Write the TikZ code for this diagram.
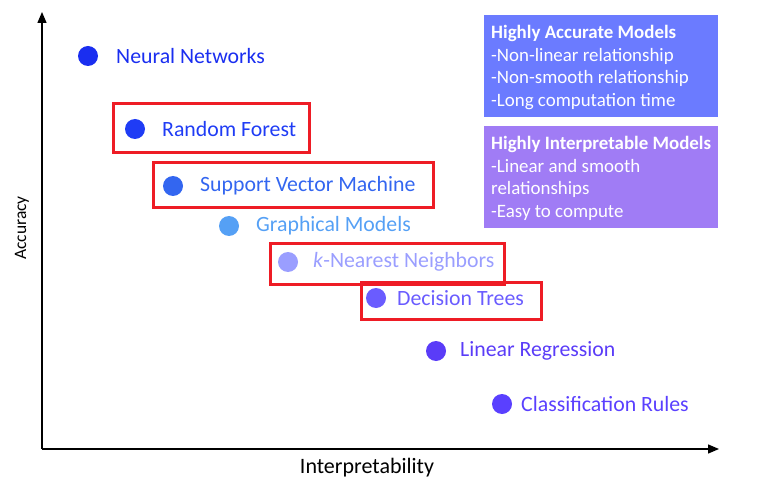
\documentclass[tikz,border=0pt]{standalone}
\usepackage{fontspec}
\setmainfont{Carlito}
\usetikzlibrary{arrows.meta}
\definecolor{cNN}{HTML}{1A2EF0}
\definecolor{cRF}{HTML}{1F3CF5}
\definecolor{cSVM}{HTML}{3366F0}
\definecolor{cGM}{HTML}{55A0F5}
\definecolor{cKNN}{HTML}{9A9EFF}
\definecolor{cDT}{HTML}{6A5CFF}
\definecolor{cLR}{HTML}{5A3CF8}
\definecolor{cCR}{HTML}{5A40FF}
\definecolor{boxA}{HTML}{6B7BFF}
\definecolor{boxB}{HTML}{A07CF5}
\definecolor{hl}{HTML}{EE1C25}
\begin{document}
\begin{tikzpicture}[x=1pt,y=-1pt,
  dot/.style={circle,inner sep=0pt,minimum size=20pt},
  lbl/.style={anchor=west,inner sep=0pt,font=\fontsize{21.8}{24}\selectfont},
  hlbox/.style={draw=hl,line width=3pt},
  infobox/.style={anchor=north west,inner sep=0pt,minimum width=234pt,minimum height=102pt},
  infotext/.style={anchor=base west,text=white,inner sep=0pt,font=\fontsize{18.9}{22}\selectfont},
  axis/.style={line width=1.4pt,-{Triangle[length=11pt,width=9pt]}},
  axlbl/.style={inner sep=0pt}]
\useasboundingbox (0,0) rectangle (770,494);
% axes
\coordinate (O) at (42,449);
\coordinate (Ytop) at (42,12);
\coordinate (Xend) at (719,449);
\draw[axis] (O) -- (Ytop);
\draw[axis] (O) -- (Xend);
\node[axlbl,rotate=90,font=\fontsize{17.5}{20}\selectfont] (ylab) at (22,228) {Accuracy};
\node[axlbl,font=\fontsize{22}{24}\selectfont] (xlab) at (367,468) {Interpretability};
% info boxes
\node[infobox,fill=boxA] (bA) at (484,15) {};
\node[infobox,fill=boxB] (bB) at (484,126) {};
\node[infotext] (tA1) at (491,39) {\textbf{Highly Accurate Models}};
\node[infotext] (tA2) at (491,61.5) {-Non-linear relationship};
\node[infotext] (tA3) at (491,84) {-Non-smooth relationship};
\node[infotext] (tA4) at (491,106.5) {-Long computation time};
\node[infotext] (tB1) at (491,150) {\textbf{Highly Interpretable Models}};
\node[infotext] (tB2) at (491,172.5) {-Linear and smooth};
\node[infotext] (tB3) at (491,195) {relationships};
\node[infotext] (tB4) at (491,217.5) {-Easy to compute};
% highlight boxes
\draw[hlbox] (113,104) rectangle (309,153);
\draw[hlbox] (153,163) rectangle (433,208);
\draw[hlbox] (270,243) rectangle (504,284);
\draw[hlbox] (361,282) rectangle (541,319);
% points
\node[dot,fill=cNN] (dNN) at (88,56) {};
\node[lbl,text=cNN] (lNN) at (116,56) {Neural Networks};
\node[dot,fill=cRF] (dRF) at (135,129) {};
\node[lbl,text=cRF] (lRF) at (162,129) {Random Forest};
\node[dot,fill=cSVM] (dSVM) at (173,186) {};
\node[lbl,text=cSVM] (lSVM) at (200,186) {Support Vector Machine};
\node[dot,fill=cGM] (dGM) at (229,226) {};
\node[lbl,text=cGM] (lGM) at (256,226) {Graphical Models};
\node[dot,fill=cKNN] (dKNN) at (288,262) {};
\node[lbl,text=cKNN] (lKNN) at (313,262) {\textit{k}-Nearest Neighbors};
\node[dot,fill=cDT] (dDT) at (376,298) {};
\node[lbl,text=cDT] (lDT) at (397,298) {Decision Trees};
\node[dot,fill=cLR] (dLR) at (436,351) {};
\node[lbl,text=cLR] (lLR) at (460,351) {Linear Regression};
\node[dot,fill=cCR] (dCR) at (502,404) {};
\node[lbl,text=cCR] (lCR) at (521,404) {Classification Rules};
\end{tikzpicture}
\end{document}
